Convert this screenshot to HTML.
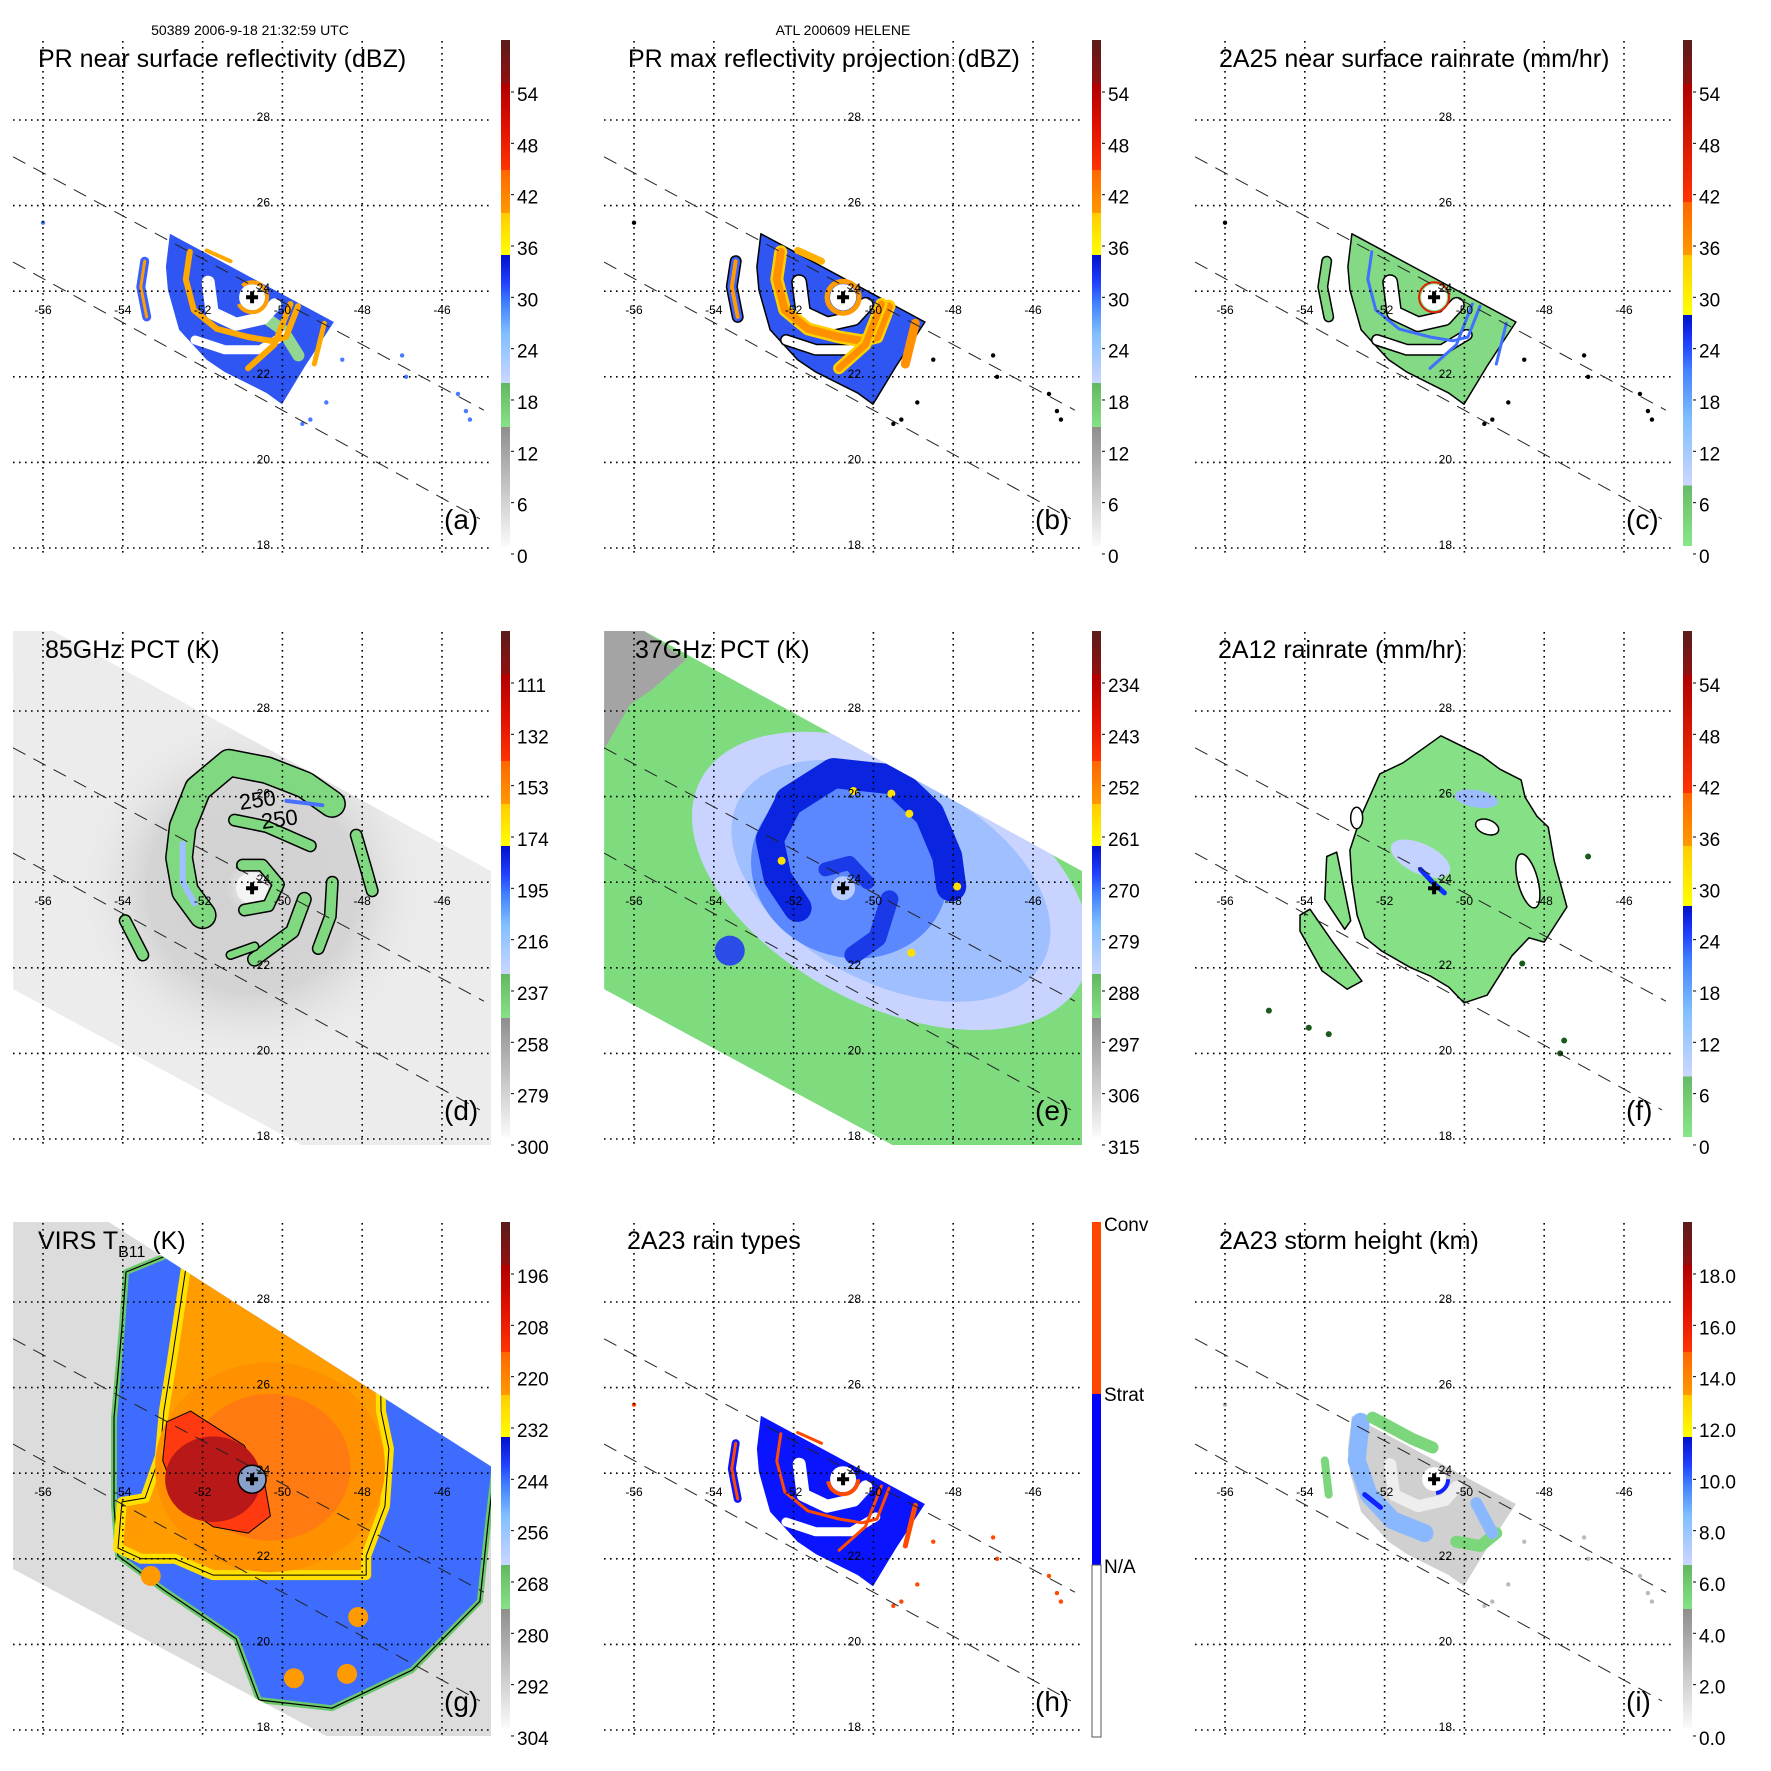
<!DOCTYPE html>
<html><head><meta charset="utf-8">
<style>
html,body{margin:0;padding:0;background:#fff}
svg{display:block}
text{font-family:"Liberation Sans",Arial,sans-serif;fill:#000}
</style></head>
<body>
<svg id="fig" width="1771" height="1771" viewBox="0 0 1771 1771" xmlns="http://www.w3.org/2000/svg">
<defs id="defs">
<linearGradient id="cmRefl" x1="0" y1="1" x2="0" y2="0">
<stop offset="0" stop-color="#fafafa"/><stop offset="0.235" stop-color="#8e8e8e"/>
<stop offset="0.235" stop-color="#86e286"/><stop offset="0.322" stop-color="#62b862"/>
<stop offset="0.322" stop-color="#ccd6ff"/><stop offset="0.42" stop-color="#80bfff"/><stop offset="0.48" stop-color="#4080ff"/><stop offset="0.52" stop-color="#2040ff"/><stop offset="0.575" stop-color="#0010cc"/>
<stop offset="0.575" stop-color="#ffff00"/><stop offset="0.658" stop-color="#ffcc00"/>
<stop offset="0.658" stop-color="#ff9900"/><stop offset="0.743" stop-color="#ff6600"/>
<stop offset="0.743" stop-color="#ff3300"/><stop offset="0.83" stop-color="#e01000"/><stop offset="0.915" stop-color="#b00000"/>
<stop offset="0.915" stop-color="#901010"/><stop offset="1" stop-color="#5a1c1c"/>
</linearGradient>
<linearGradient id="cmRain" x1="0" y1="1" x2="0" y2="0">
<stop offset="0" stop-color="#8ae68a"/><stop offset="0.12" stop-color="#66bb66"/>
<stop offset="0.12" stop-color="#ccd6ff"/><stop offset="0.25" stop-color="#80bfff"/><stop offset="0.35" stop-color="#4080ff"/><stop offset="0.4" stop-color="#2040ff"/><stop offset="0.457" stop-color="#0010cc"/>
<stop offset="0.457" stop-color="#ffff00"/><stop offset="0.575" stop-color="#ffcc00"/>
<stop offset="0.575" stop-color="#ff9900"/><stop offset="0.68" stop-color="#ff6600"/>
<stop offset="0.68" stop-color="#ff3300"/><stop offset="0.913" stop-color="#b00000"/>
<stop offset="0.913" stop-color="#901010"/><stop offset="1" stop-color="#5a1c1c"/>
</linearGradient>
<radialGradient id="pctHalo">
<stop offset="0" stop-color="#f4f4f4" stop-opacity="0.9"/>
<stop offset="0.15" stop-color="#cccccc" stop-opacity="0.8"/>
<stop offset="0.6" stop-color="#c4c4c4" stop-opacity="0.6"/>
<stop offset="1" stop-color="#e6e6e6" stop-opacity="0"/>
</radialGradient>
<clipPath id="plotClip"><rect x="13" y="40" width="478" height="514"/></clipPath>
</defs>
<text x="250" y="35" font-size="14" text-anchor="middle">50389 2006-9-18 21:32:59 UTC</text>
<text x="843" y="35" font-size="14" text-anchor="middle">ATL 200609 HELENE</text>
</svg>
<script>
// ---- data (lon/lat) ----
const lonTicks=[-56,-54,-52,-50,-48,-46];
const latTicks=[18,20,22,24,26,28];
const stormCenter=[-50.76,23.86];
const prSwathUpper=[[-56.75,27.14],[-44.95,21.22]];
const prSwathLower=[[-56.75,24.68],[-45.05,18.68]];
const prRegion=[[-52.82,25.34],[-48.71,23.28],[-49.43,22.25],[-50.01,21.36],[-50.39,21.62],[-51.44,22.11],[-51.9,22.4],[-52.59,23.1],[-52.87,24.03],[-52.92,24.57]];
const prLeftBand=[[-53.45,24.7],[-53.55,24.1],[-53.4,23.4]];
const prMoat=[[-51.86,24.21],[-51.76,23.49],[-51.16,23.23],[-50.49,23.37],[-50.19,23.68]];
const prGap=[[-52.19,22.86],[-51.44,22.63],[-50.56,22.63],[-49.94,22.98]];
const prBandA=[[-52.32,24.92],[-52.42,24.28],[-52.22,23.56],[-51.64,23.12],[-50.86,22.93],[-50.29,22.84],[-49.91,22.93],[-49.61,23.65]];
const prBandB=[[-49.8,23.7],[-50.2,22.75],[-50.86,22.2]];
const prBandC=[[-48.95,23.25],[-49.2,22.3]];
const prBandTop=[[-51.9,24.95],[-51.3,24.7]];
const prSpecks=[[-47.0,22.5],[-46.9,22.0],[-45.6,21.6],[-45.4,21.2],[-48.5,22.4],[-48.9,21.4],[-49.3,21.0],[-49.5,20.9],[-45.3,21.0],[-56.0,25.6]];
const tmiSwath=[[-56.75,29.9],[-55.8,29.9],[-44.77,24.26],[-44.77,17.8],[-49.53,17.86],[-56.75,21.5]];
const virsSwath=[[-56.75,29.9],[-54.4,29.9],[-44.77,24.16],[-44.77,17.8],[-48.9,17.86],[-56.75,21.76]];
// 85 GHz bands
const d85Outer=[[-52.0,23.23],[-52.44,23.79],[-52.59,24.57],[-52.5,25.3],[-52.12,26.18],[-51.34,26.79],[-50.39,26.62],[-49.43,26.27],[-48.76,25.83]];
const d85Mid=[[-51.2,25.45],[-50.4,25.3],[-49.3,24.85]];
const d85Ring=[[-51.0,24.4],[-50.5,24.4],[-50.1,23.95],[-50.35,23.45],[-50.95,23.35]];
const d85Low1=[[-49.45,23.6],[-49.75,22.85],[-50.7,22.2]];
const d85Low2=[[-48.75,24.0],[-48.8,23.2],[-49.1,22.45]];
const d85Right=[[-48.15,25.1],[-47.9,24.3],[-47.75,23.8]];
const d85Left=[[-53.94,23.1],[-53.5,22.3]];
const d85Small=[[-51.3,22.3],[-50.7,22.5]];
// 37 GHz
const e37Corner=[[-56.75,29.9],[-55.8,29.9],[-54.7,29.2],[-55.55,28.5],[-56.1,28.15],[-56.75,27.1]];
const e37Ellipse=[-49.56,24.03,5.4,2.9];
const e37ArmTop=[[-52.1,25.9],[-51.0,26.55],[-49.5,26.4],[-48.6,25.6],[-48.15,24.6],[-48.05,23.9]];
const e37ArmLeft=[[-52.1,25.9],[-52.6,25.0],[-52.4,24.1],[-51.9,23.4]];
const e37ArmLow=[[-49.6,23.6],[-49.9,22.7],[-50.5,22.3]];
const e37Ring=[[-51.2,24.3],[-50.6,24.45],[-50.15,24.0]];
const e37Blob=[-53.6,22.4];
const e37Yellow=[[-50.5,26.13],[-49.55,26.07],[-52.3,24.5],[-49.05,22.35],[-47.9,23.9],[-49.1,25.6]];
// 2A12 blob
const f12Main=[[-50.59,27.42],[-49.56,26.95],[-49.11,26.64],[-48.58,26.39],[-48.48,25.99],[-48.18,25.54],[-47.9,25.29],[-47.75,24.5],[-47.43,23.42],[-48.0,22.6],[-48.38,22.7],[-48.81,22.28],[-49.43,21.36],[-50.01,21.18],[-50.39,21.55],[-50.86,21.81],[-51.34,22.0],[-52.07,22.39],[-52.49,22.7],[-52.69,23.23],[-52.82,24.03],[-52.87,24.75],[-52.59,25.55],[-52.12,26.53],[-51.54,26.79]];
const f12Left=[[-54.12,23.23],[-53.87,23.37],[-53.32,22.63],[-52.57,21.69],[-52.94,21.5],[-53.57,21.93],[-54.12,22.86]];
const f12Strip=[[-53.45,24.6],[-53.2,24.7],[-52.85,23.1],[-53.0,22.9],[-53.5,23.6]];
const f12Hole=[-48.41,24.03];
const f12Hole2=[-49.43,25.29];
const f12Blue=[[-51.1,24.3],[-50.8,24.0],[-50.5,23.75]];
const f12Specks=[[-54.9,21.0],[-53.9,20.6],[-53.4,20.45],[-47.6,20.0],[-47.5,20.3],[-48.55,22.1],[-46.9,24.6]];
// VIRS
const gCloud=[[-53.92,28.7],[-52.07,29.4],[-47.05,27.3],[-44.55,25.2],[-44.85,22.79],[-45.05,21.01],[-46.75,19.4],[-48.76,18.51],[-50.59,18.7],[-51.16,20.13],[-52.97,21.27],[-54.12,22.07],[-54.22,23.23],[-54.22,25.29],[-54.02,27.42]];
const gYellow=[[-52.32,29.4],[-47.55,27.07],[-47.53,25.45],[-47.33,24.57],[-47.43,23.23],[-47.9,22.07],[-47.9,21.62],[-48.48,21.62],[-50.39,21.62],[-51.74,21.62],[-52.69,22.0],[-53.54,22.0],[-54.12,22.25],[-54.02,23.33],[-53.44,23.42],[-53.07,24.4],[-52.97,25.45],[-52.77,26.62]];
const gOrange=[-50.31,24.14,2.88,2.45];
const gRed=[[-52.9,25.2],[-52.3,25.45],[-50.96,24.65],[-50.45,23.79],[-50.3,23.0],[-50.86,22.6],[-51.74,22.75],[-52.6,23.3],[-53.0,24.3]];
const gCore=[-51.74,23.86,1.2,1.0];
const gWarmBlobs=[[-48.1,20.64],[-49.71,19.21],[-48.38,19.31],[-53.6,22.7],[-53.3,21.6]];
const gStreak=[[-46.2,24.3],[-46.3,22.6],[-46.6,21.2]];
// colorbar labels
const cbRefl=['54','48','42','36','30','24','18','12','6','0'];
const cb85=['111','132','153','174','195','216','237','258','279','300'];
const cb37=['234','243','252','261','270','279','288','297','306','315'];
const cbVirs=['196','208','220','232','244','256','268','280','292','304'];
const cbHeight=['18.0','16.0','14.0','12.0','10.0','8.0','6.0','4.0','2.0','0.0'];
const rainTypeLabels=['Conv','Strat','N/A'];

// ---- axis functions ----
function X(lon){return 43+(lon+56)*39.9;}
function Y(lat){return 548-(lat-18)*42.8;}
const NS='http://www.w3.org/2000/svg';
const svg=document.getElementById('fig');
const defs=document.getElementById('defs');
function mk(tag,attrs,parent,name){
  const el=document.createElementNS(NS,tag);
  for(const k in attrs) el.setAttribute(k,attrs[k]);
  
  
  parent.appendChild(el);
  return el;
}
function pth(pts,close){let s=pts.map((p,i)=>(i?'L':'M')+X(p[0]).toFixed(1)+' '+Y(p[1]).toFixed(1)).join(' ');return close?s+' Z':s;}
const cp1=mk('clipPath',{id:'tmiClip'},defs,'tmi-swath-clip');
mk('path',{d:pth(tmiSwath,true)},cp1,'tmi-swath-clip-shape');
const cp2=mk('clipPath',{id:'virsClip'},defs,'virs-swath-clip');
mk('path',{d:pth(virsSwath,true)},cp2,'virs-swath-clip-shape');

function poly(g,pts,fill,stroke,sw,name){return mk('path',{d:pth(pts,true),fill:fill,stroke:stroke||'none','stroke-width':sw||0,'stroke-linejoin':'round'},g,name);}
function band(g,pts,w,color,name,outline){
  if(outline) mk('path',{d:pth(pts,false),fill:'none',stroke:'#000','stroke-width':w+3,'stroke-linecap':'round','stroke-linejoin':'round'},g,name+'-outline');
  return mk('path',{d:pth(pts,false),fill:'none',stroke:color,'stroke-width':w,'stroke-linecap':'round','stroke-linejoin':'round'},g,name);
}
function ell(g,c,rxDeg,ryDeg,fill,name,rot,stroke){
  const cx=X(c[0]),cy=Y(c[1]);
  return mk('ellipse',{cx:cx,cy:cy,rx:X(c[0]+rxDeg)-cx,ry:Y(c[1]-ryDeg)-cy,fill:fill,stroke:stroke||'none','stroke-width':stroke?1.5:0,transform:'rotate('+(rot||0)+' '+cx+' '+cy+')'},g,name);
}
function dot(g,c,r,fill,name){return mk('circle',{cx:X(c[0]),cy:Y(c[1]),r:r,fill:fill},g,name);}

const panels=[
 {key:'a',col:0,row:0,title:'PR near surface reflectivity (dBZ)',tx:38,cmap:'cmRefl',labels:cbRefl},
 {key:'b',col:1,row:0,title:'PR max reflectivity projection (dBZ)',tx:37,cmap:'cmRefl',labels:cbRefl},
 {key:'c',col:2,row:0,title:'2A25 near surface rainrate (mm/hr)',tx:37,cmap:'cmRain',labels:cbRefl},
 {key:'d',col:0,row:1,title:'85GHz PCT (K)',tx:45,cmap:'cmRefl',labels:cb85},
 {key:'e',col:1,row:1,title:'37GHz PCT (K)',tx:44,cmap:'cmRefl',labels:cb37},
 {key:'f',col:2,row:1,title:'2A12 rainrate (mm/hr)',tx:36,cmap:'cmRain',labels:cbRefl},
 {key:'g',col:0,row:2,title:'VIRS T',tx:38,cmap:'cmRefl',labels:cbVirs},
 {key:'h',col:1,row:2,title:'2A23 rain types',tx:36,cmap:'types',labels:rainTypeLabels},
 {key:'i',col:2,row:2,title:'2A23 storm height (km)',tx:37,cmap:'cmRefl',labels:cbHeight}
];

function prBase(g,fill,outline){
  poly(g,prRegion,fill,outline?'#000':'none',outline?1.5:0,'pr-rain-region');
}
function prHoles(g,outline){
  band(g,prMoat,13,'#fff','eye-moat',outline);
  band(g,prGap,9,'#fff','rainband-gap',outline);
  dot(g,stormCenter,13,'#fff','eye');
}
function specks(g,color,name){
  prSpecks.forEach(p=>{dot(g,p,2.2,color,name);});
}

const drawers={
 a(g){
  prBase(g,'#2f55f2',false);
  band(g,prLeftBand,9,'#3a60ff','outer-band');
  band(g,prLeftBand,3,'#ffa000','outer-band-core');
  band(g,[[-50.6,23.5],[-50.0,23.1],[-49.6,22.5]],12,'#92d692','green-area');
  prHoles(g,false);
  band(g,prBandA,6,'#ffa800','band-a');
  band(g,prBandB,6,'#ffa800','band-b');
  band(g,prBandC,5,'#ffa800','band-c');
  band(g,prBandTop,4,'#ffa800','band-top');
  mk('circle',{cx:X(stormCenter[0]),cy:Y(stormCenter[1]),r:15,fill:'none',stroke:'#ffa000','stroke-width':4,'stroke-dasharray':'40,20'},g,'eyewall');
  specks(g,'#4a7aff','speck');
 },
 b(g){
  prBase(g,'#2f55f2',true);
  band(g,prLeftBand,9,'#3a60ff','outer-band',true);
  band(g,prLeftBand,4,'#ff9a00','outer-band-core');
  prHoles(g,true);
  band(g,prBandA,13,'#ffd000','band-a-edge');
  band(g,prBandA,8,'#ff9000','band-a');
  band(g,prBandB,12,'#ffd000','band-b-edge');
  band(g,prBandB,7,'#ff9000','band-b');
  band(g,prBandC,9,'#ff9000','band-c');
  band(g,prBandTop,7,'#ffb000','band-top');
  mk('circle',{cx:X(stormCenter[0]),cy:Y(stormCenter[1]),r:16,fill:'none',stroke:'#ff9a00','stroke-width':5},g,'eyewall');
  dot(g,stormCenter,13,'#fff','eye');
  specks(g,'#000','speck');
 },
 c(g){
  prBase(g,'#84da84',true);
  band(g,prLeftBand,8,'#84da84','outer-band',true);
  prHoles(g,true);
  band(g,prBandA,3,'#4070ff','band-a');
  band(g,prBandB,3,'#4070ff','band-b');
  band(g,prBandC,3,'#4070ff','band-c');
  mk('circle',{cx:X(stormCenter[0]),cy:Y(stormCenter[1]),r:15,fill:'none',stroke:'#e02000','stroke-width':2},g,'eyewall');
  specks(g,'#000','speck');
 },
 d(g0){
  const g=mk('g',{'clip-path':'url(#tmiClip)'},g0,'tmi-swath-layer');
  poly(g,tmiSwath,'#ececec','none',0,'tmi-swath');
  mk('circle',{cx:X(stormCenter[0]),cy:Y(stormCenter[1]),r:175,fill:'url(#pctHalo)'},g,'cold-halo');
  dot(g,stormCenter,16,'#f4f4f4','eye');
  [[d85Outer,25,'outer-band'],[d85Mid,10,'mid-band'],[d85Ring,10,'inner-ring'],[d85Low1,12,'lower-band-1'],[d85Low2,10,'lower-band-2'],[d85Right,10,'right-band'],[d85Left,10,'left-island'],[d85Small,7,'small-band']].forEach(b=>band(g,b[0],b[1],'#80d880',b[2],true));
  band(g,[[-52.5,24.9],[-52.5,24.0],[-52.2,23.5]],6,'#9ec0ff','outer-band-ice');
  band(g,[[-49.9,25.9],[-49.0,25.8]],4,'#4a70ff','north-ice');
  mk('text',{x:X(-50.6),y:Y(25.75),'font-size':22,transform:'rotate(-8 '+X(-50.6)+' '+Y(25.75)+')','text-anchor':'middle'},g,'contour-label-250').textContent='250';
  mk('text',{x:X(-50.05),y:Y(25.3),'font-size':22,transform:'rotate(-8 '+X(-50.05)+' '+Y(25.3)+')','text-anchor':'middle'},g,'contour-label-250b').textContent='250';
 },
 e(g0){
  const g=mk('g',{'clip-path':'url(#tmiClip)'},g0,'tmi-swath-layer');
  poly(g,tmiSwath,'#7edc7e','none',0,'tmi-swath');
  poly(g,e37Corner,'#a4a4a4','none',0,'warm-corner');
  const c=[e37Ellipse[0],e37Ellipse[1]];
  ell(g,c,e37Ellipse[2],e37Ellipse[3],'#c8d4ff','light-blue-region',28);
  ell(g,c,e37Ellipse[2]*0.8,e37Ellipse[3]*0.82,'#a0bfff','mid-blue-region',28);
  ell(g,[-50.6,24.3],2.5,2.05,'#5c88ff','blue-region',20);
  band(g,e37ArmTop,30,'#0a24e0','arm-top');
  band(g,e37ArmLeft,28,'#0a24e0','arm-left');
  band(g,e37ArmLow,18,'#1a3ae8','arm-low');
  band(g,e37Ring,14,'#1a3ae8','inner-ring');
  dot(g,e37Blob,15,'#2c4ce8','south-west-blob');
  dot(g,stormCenter,12,'#b8ccff','eye');
  e37Yellow.forEach(p=>dot(g,p,4,'#ffe000','yellow-speck'));
 },
 f(g){
  poly(g,f12Main,'#86e086','#000',1.5,'rain-area');
  poly(g,f12Left,'#86e086','#000',1.5,'left-rain-band');
  poly(g,f12Strip,'#86e086','#000',1.5,'left-rain-strip');
  ell(g,[-51.1,24.55],0.8,0.35,'#c4d2ff','light-blue-patch',25);
  ell(g,[-49.7,25.95],0.55,0.2,'#9cbcff','north-patch',10);
  band(g,f12Blue,5,'#1030ff','heavy-rain-streak');
  ell(g,f12Hole,0.25,0.65,'#fff','rain-hole',-15,'#000');
  ell(g,f12Hole2,0.3,0.17,'#fff','rain-hole-2',20,'#000');
  ell(g,[-52.7,25.5],0.15,0.25,'#fff','rain-hole-3',0,'#000');
  f12Specks.forEach(p=>dot(g,p,3,'#1a5a1a','speck'));
 },
 g(g0){
  const g=mk('g',{'clip-path':'url(#virsClip)'},g0,'virs-swath-layer');
  poly(g,virsSwath,'#dcdcdc','none',0,'virs-swath');
  band(g,gStreak,10,'#b4b4b4','gray-streak');
  poly(g,gCloud,'#3e6cff','#6cc86c',6,'cloud-shield');
  poly(g,gCloud,'none','#000',1.2,'cloud-contour');
  poly(g,gYellow,'#ff9c00','#ffe000',10,'cold-cloud');
  poly(g,gYellow,'none','#000',1,'cold-cloud-contour');
  ell(g,[gOrange[0],gOrange[1]],gOrange[2],gOrange[3],'#ff9000','cdo');
  ell(g,[gOrange[0],gOrange[1]],gOrange[2]*0.7,gOrange[3]*0.7,'#ff7a10','cdo-inner');
  poly(g,gRed,'#ff3a10','#000',1,'very-cold-region');
  ell(g,[gCore[0],gCore[1]],gCore[2],gCore[3],'#b81818','coldest-core');
  gWarmBlobs.forEach(p=>dot(g,p,10,'#ff9a00','cold-blob'));
  mk('circle',{cx:X(stormCenter[0]),cy:Y(stormCenter[1]),r:14,fill:'#8aa0c8',stroke:'#000','stroke-width':1.5},g,'eye');
 },
 h(g){
  prBase(g,'#0a14ff',false);
  band(g,prLeftBand,8,'#0a14ff','outer-band');
  band(g,prLeftBand,3,'#ff4a00','outer-band-conv');
  prHoles(g,false);
  band(g,prBandA,3,'#ff4a00','conv-a');
  band(g,prBandB,3,'#ff4a00','conv-b');
  band(g,prBandC,5,'#ff4a00','conv-c');
  band(g,prBandTop,3,'#ff4a00','conv-top');
  mk('circle',{cx:X(stormCenter[0]),cy:Y(stormCenter[1]),r:15,fill:'none',stroke:'#ff4a00','stroke-width':4,'stroke-dasharray':'45,50'},g,'eyewall');
  specks(g,'#ff4a00','speck');
 },
 i(g){
  prBase(g,'#d0d0d0',false);
  band(g,[[-52.6,25.2],[-52.7,24.3],[-52.4,23.5],[-51.8,22.9],[-51.0,22.6]],18,'#8ab8ff','light-blue-band');
  band(g,[[-52.3,25.3],[-51.3,24.8],[-50.8,24.6]],12,'#7cd67c','green-top');
  band(g,[[-50.2,22.4],[-49.6,22.3],[-49.2,22.6]],12,'#7cd67c','green-lower');
  band(g,[[-49.7,23.3],[-49.3,22.6]],12,'#8ab8ff','blue-lower');
  band(g,[[-53.5,24.3],[-53.4,23.5]],8,'#7cd67c','green-left');
  band(g,[[-52.5,23.5],[-52.1,23.2]],5,'#1020ff','dark-blue-spot');
  band(g,prMoat,12,'#eeeeee','moat');
  dot(g,stormCenter,12,'#fff','eye');
  mk('circle',{cx:X(stormCenter[0]),cy:Y(stormCenter[1]),r:14,fill:'none',stroke:'#1020ff','stroke-width':4,'stroke-dasharray':'20,70'},g,'eyewall');
  specks(g,'#bbbbbb','speck');
 }
};

panels.forEach(P=>{
  const root=mk('g',{transform:'translate('+(P.col*591)+','+(P.row*591)+')'},svg,'panel-'+P.key);
  const data=mk('g',{'clip-path':'url(#plotClip)'},root,'data-layer-'+P.key);
  drawers[P.key](data);
  lonTicks.forEach(l=>{
    mk('line',{x1:X(l),x2:X(l),y1:41,y2:556,stroke:'#000','stroke-width':1.6,'stroke-dasharray':'1.6,4.4'},root,'lon-gridline');
    mk('text',{x:X(l),y:314,'font-size':12,'text-anchor':'middle'},root,'lon-tick-label').textContent=String(l);
  });
  latTicks.forEach(l=>{
    mk('line',{x1:13,x2:492,y1:Y(l),y2:Y(l),stroke:'#000','stroke-width':1.6,'stroke-dasharray':'1.6,4.4'},root,'lat-gridline');
    mk('text',{x:270,y:Y(l)+1,'font-size':12,'text-anchor':'end'},root,'lat-tick-label').textContent=String(l);
  });
  [prSwathUpper,prSwathLower].forEach(s=>{
    mk('line',{x1:X(s[0][0]),y1:Y(s[0][1]),x2:X(s[1][0]),y2:Y(s[1][1]),stroke:'#222','stroke-width':1,'stroke-dasharray':'14,9'},root,'pr-swath-edge');
  });
  const cx=X(stormCenter[0]),cy=Y(stormCenter[1]);
  mk('path',{d:'M'+(cx-6)+' '+cy+' H'+(cx+6)+' M'+cx+' '+(cy-6)+' V'+(cy+6),stroke:'#000','stroke-width':4},root,'storm-center-marker');
  const t=mk('text',{x:P.tx,y:67,'font-size':25},root,'panel-title');
  t.textContent=P.title;
  if(P.key==='g'){
    const s1=mk('tspan',{'font-size':16,dy:8},t,'title-subscript');
    s1.textContent='B11';
    const s2=mk('tspan',{'font-size':25,dy:-8},t,'title-units');
    s2.textContent=' (K)';
  }
  mk('text',{x:444,y:529,'font-size':28},root,'panel-letter').textContent='('+P.key+')';
  if(P.cmap==='types'){
    mk('rect',{x:501,y:40,width:9,height:172,fill:'#ff4500'},root,'colorbar-conv');
    mk('rect',{x:501,y:212,width:9,height:171,fill:'#0000ff'},root,'colorbar-strat');
    mk('rect',{x:501,y:383,width:9,height:172,fill:'#fff',stroke:'#555','stroke-width':1},root,'colorbar-na');
    const ys=[42,212,384];
    P.labels.forEach((lab,i)=>{
      mk('text',{x:513,y:ys[i]+7,'font-size':19},root,'colorbar-label').textContent=lab;
    });
  } else {
    mk('rect',{x:501,y:40,width:9,height:506,fill:'url(#'+P.cmap+')'},root,'colorbar');
    P.labels.forEach((lab,i)=>{
      const yc=94+i*51.33;
      mk('line',{x1:511,x2:514,y1:yc-2,y2:yc-2,stroke:'#000','stroke-width':1},root,'colorbar-tick');
      mk('text',{x:517,y:yc+7,'font-size':19},root,'colorbar-label').textContent=lab;
    });
  }
});
</script>
</body></html>
